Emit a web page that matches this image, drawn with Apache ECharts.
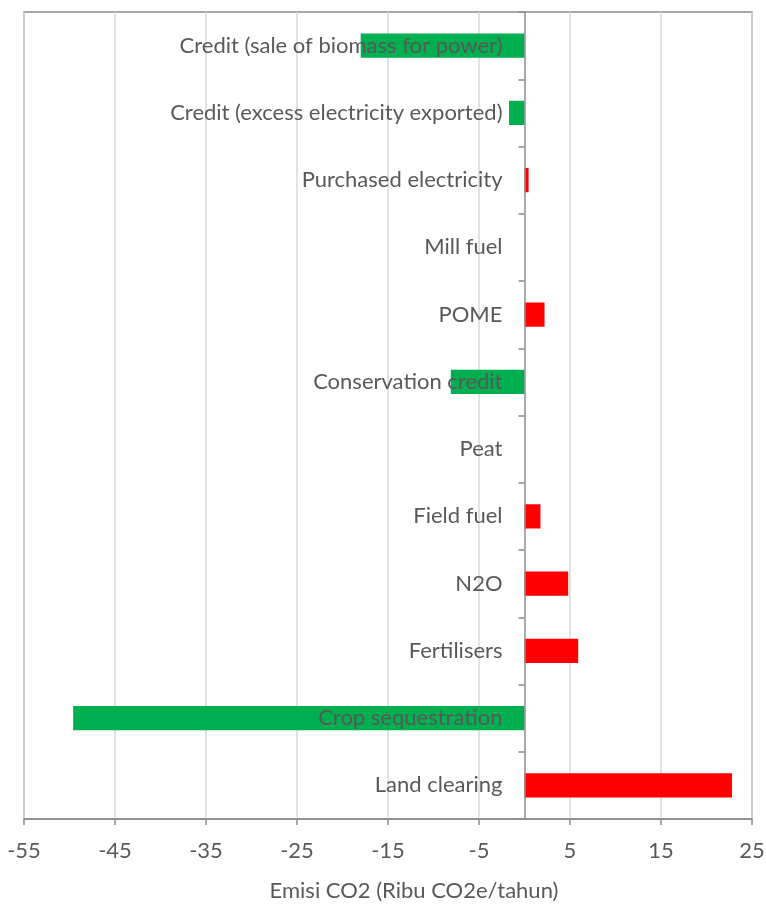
<!DOCTYPE html>
<html>
<head>
<meta charset="utf-8">
<script src="https://cdn.jsdelivr.net/npm/echarts@6/dist/echarts.min.js"></script>
<style>
html,body{margin:0;padding:0;background:#fff;}
#chart{width:766px;height:908px;}
</style>
</head>
<body>
<div id="chart"></div>
<script>
const categories = ['Land clearing', 'Crop sequestration', 'Fertilisers', 'N2O', 'Field fuel', 'Peat',
  'Conservation credit', 'POME', 'Mill fuel', 'Purchased electricity',
  'Credit (excess electricity exported)', 'Credit (sale of biomass for power)'];
const emissions = [22.8, -49.6, 5.9, 4.8, 1.75, 0, -8.1, 2.2, 0, 0.45, -1.7, -18.0];
const xTicks = { min: -55, max: 25, interval: 10 };
const axisTitle = 'Emisi CO2 (Ribu CO2e/tahun)';

const textColor = '#595959';
const fontFamily = 'Lato, "Open Sans", sans-serif';

const gridLeft = 24, gridRight = 14, W = 766;
const plotW = W - gridLeft - gridRight;
const zeroOffset = (0 - xTicks.min) / (xTicks.max - xTicks.min) * plotW;

const chart = echarts.init(document.getElementById('chart'), null, { renderer: 'canvas' });
chart.setOption({
  animation: false,
  backgroundColor: '#fff',
  grid: { left: gridLeft, right: gridRight, top: 12, bottom: 89, show: true, borderColor: '#8c8c8c', borderWidth: 1.5,
          containLabel: false, outerBoundsMode: 'none' },
  xAxis: {
    type: 'value',
    min: xTicks.min, max: xTicks.max, interval: xTicks.interval,
    axisLine: { show: true, onZero: false, lineStyle: { color: '#8c8c8c', width: 1.5 } },
    axisTick: { show: true, length: 6, lineStyle: { color: '#8c8c8c', width: 1.5 } },
    axisLabel: { color: textColor, fontSize: 22, fontFamily: fontFamily, margin: 21, showMinLabel: true, showMaxLabel: true },
    splitLine: { show: true, lineStyle: { color: '#d9d9d9', width: 1.5 } }
  },
  yAxis: {
    type: 'category',
    data: categories,
    position: 'left',
    offset: -zeroOffset,
    axisLine: { show: true, onZero: false, lineStyle: { color: '#8c8c8c', width: 1.5 } },
    axisTick: { show: true, length: 6, lineStyle: { color: '#8c8c8c', width: 1.5 } },
    axisLabel: { color: textColor, fontSize: 22, fontFamily: fontFamily, margin: 22 },
    splitLine: { show: false },
    z: 10
  },
  series: [{
    type: 'bar',
    data: emissions,
    barCategoryGap: '64%',
    z: 2,
    itemStyle: { color: p => p.value < 0 ? '#00b050' : '#ff0000' }
  }],
  graphic: [{
    type: 'text', x: 414, y: 891, z: 20,
    style: { text: axisTitle, fill: textColor, font: '22px ' + fontFamily, textAlign: 'center', textVerticalAlign: 'middle' }
  }]
});
</script>
</body>
</html>
